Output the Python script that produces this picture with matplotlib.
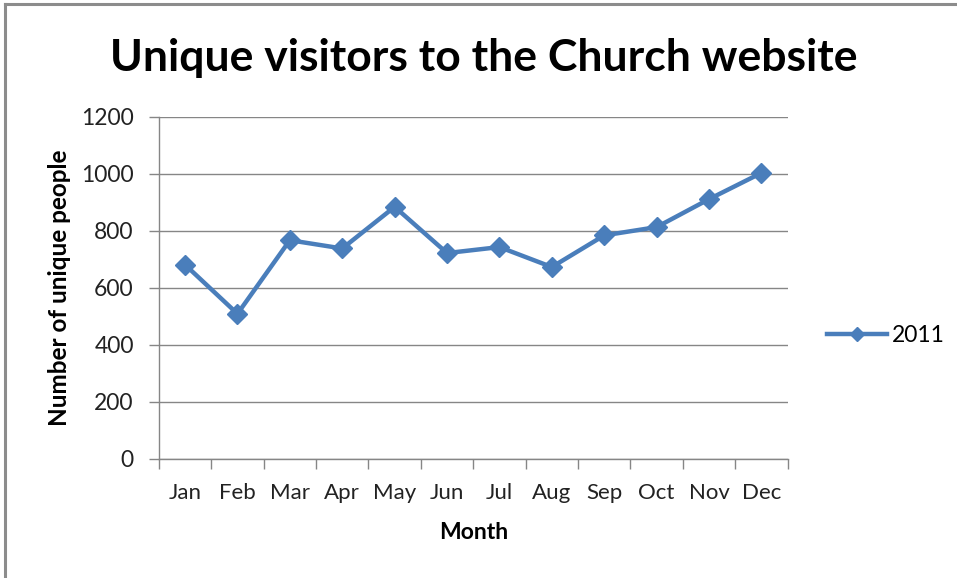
import matplotlib.pyplot as plt
import numpy as np
from matplotlib.lines import Line2D

months = ["Jan", "Feb", "Mar", "Apr", "May", "Jun",
          "Jul", "Aug", "Sep", "Oct", "Nov", "Dec"]
visitors_2011 = [681, 509, 767, 738, 884, 722, 743, 673, 784, 813, 911, 1003]
y_ticks = [0, 200, 400, 600, 800, 1000, 1200]

blue = "#4A7EBB"
grid_gray = "#868686"

plt.rcParams['font.family'] = ['Lato', 'DejaVu Sans']
fig = plt.figure(figsize=(9.57, 5.78), dpi=100)

# grey frame, only top and left edges are visible in the original
fig.lines.append(Line2D([0.005, 0.005], [0.0, 0.993], transform=fig.transFigure,
                        color="#8c8c8c", linewidth=2.2))
fig.lines.append(Line2D([0.005, 1.0], [0.993, 0.993], transform=fig.transFigure,
                        color="#8c8c8c", linewidth=2.2))

ax = fig.add_axes([0.166, 0.206, 0.657, 0.592])
x = np.arange(len(months))
line, = ax.plot(x, visitors_2011, color=blue, linewidth=3.2, marker="D",
                markersize=10, label="2011")

ax.set_xlim(-0.5, len(months) - 0.5)
ax.set_ylim(0, 1200)
ax.set_yticks(y_ticks)
ax.set_yticklabels([str(v) for v in y_ticks], fontsize=16.5, color="#222222")
ax.yaxis.grid(True, color=grid_gray, linewidth=1)
ax.set_axisbelow(True)

# category labels at centers, tick marks at boundaries
ax.set_xticks(x)
ax.set_xticklabels(months, fontsize=16, color="#222222")
ax.set_xticks(np.arange(-0.5, len(months), 1), minor=True)
ax.tick_params(axis="x", which="major", length=0, pad=17)
ax.tick_params(axis="x", which="minor", length=7, color=grid_gray, width=1)
ax.tick_params(axis="y", length=7, color=grid_gray, width=1, pad=11)

for side in ["top", "right"]:
    ax.spines[side].set_visible(False)
for side in ["left", "bottom"]:
    ax.spines[side].set_color(grid_gray)
    ax.spines[side].set_linewidth(1)

ax.set_xlabel("Month", fontsize=16.5, fontweight="bold", labelpad=14)
ax.set_ylabel("Number of unique people", fontsize=17.5, fontweight="bold", labelpad=7)

fig.text(0.506, 0.9, "Unique visitors to the Church website", ha="center",
         va="center", fontsize=32, fontweight="bold")

ax.legend(handles=[line], loc="center left", bbox_to_anchor=(1.063, 0.36),
          frameon=False, fontsize=16.5, handlelength=2.6, handletextpad=0.2,
          markerscale=0.75, borderpad=0, borderaxespad=0)

fig.savefig("out.png", dpi=100)
